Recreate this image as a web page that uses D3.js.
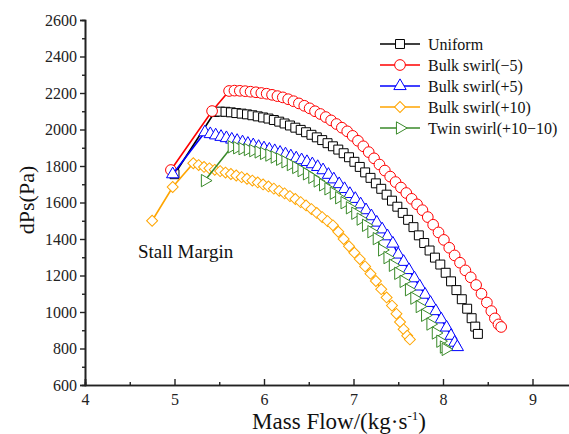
<!DOCTYPE html>
<html>
<head>
<meta charset="utf-8">
<script src="https://cdnjs.cloudflare.com/ajax/libs/d3/7.8.5/d3.min.js"></script>
<style>
 body{margin:0;background:#fff;}
 svg, svg text{font-family:"Liberation Serif","Times New Roman",serif;}
</style>
</head>
<body>
<svg id="svg" width="569" height="434"></svg>
<script>

var seriesNames=["Uniform","Bulk swirl(\u22125)","Bulk swirl(+5)","Bulk swirl(+10)","Twin swirl(+10\u221210)"];
var xTicks=[4,5,6,7,8,9];
var yTicks=[600,800,1000,1200,1400,1600,1800,2000,2200,2400,2600];

var uniformX=[5.00,5.45,5.51,5.57,5.63,5.69,5.75,5.81,5.87,5.93,5.99,6.05,6.11,6.17,6.23,6.29,6.35,6.41,6.47,6.53,6.59,6.65,6.71,6.77,6.83,6.89,6.95,7.01,7.07,7.13,7.19,7.25,7.31,7.37,7.43,7.49,7.55,7.61,7.67,7.73,7.79,7.85,7.91,7.97,8.03,8.09,8.15,8.21,8.27,8.32,8.36,8.39];
var uniformY=[1755,2096,2098,2097,2094,2090,2087,2083,2078,2072,2066,2060,2052,2043,2033,2022,2010,1998,1985,1971,1957,1942,1925,1908,1890,1870,1848,1823,1795,1765,1735,1705,1675,1643,1610,1577,1543,1505,1465,1420,1378,1337,1298,1260,1215,1168,1120,1070,1018,966,920,880];

var swirlM5X=[4.96,5.42,5.61,5.67,5.73,5.79,5.85,5.91,5.97,6.03,6.09,6.15,6.21,6.27,6.33,6.39,6.45,6.51,6.57,6.63,6.69,6.75,6.81,6.87,6.93,6.99,7.05,7.11,7.17,7.23,7.29,7.35,7.41,7.47,7.53,7.59,7.65,7.71,7.77,7.83,7.89,7.95,8.01,8.07,8.13,8.19,8.25,8.31,8.37,8.43,8.49,8.54,8.58,8.62,8.65];
var swirlM5Y=[1778,2101,2211,2213,2212,2210,2207,2204,2200,2196,2190,2183,2176,2166,2155,2143,2130,2116,2100,2085,2068,2050,2030,2010,1990,1965,1938,1908,1876,1842,1808,1775,1742,1712,1682,1652,1620,1590,1558,1520,1478,1436,1395,1352,1310,1270,1228,1190,1148,1100,1052,1005,965,932,918];

var swirlP5X=[4.98,5.34,5.40,5.46,5.52,5.58,5.64,5.70,5.76,5.82,5.88,5.94,6.00,6.06,6.12,6.18,6.24,6.30,6.36,6.42,6.48,6.54,6.60,6.66,6.72,6.78,6.84,6.90,6.96,7.02,7.08,7.14,7.20,7.26,7.32,7.38,7.44,7.50,7.56,7.62,7.68,7.74,7.80,7.86,7.92,7.98,8.04,8.09,8.13,8.16];
var swirlP5Y=[1755,1985,1975,1968,1960,1953,1945,1938,1930,1922,1914,1905,1897,1890,1882,1873,1864,1853,1842,1832,1822,1810,1795,1777,1752,1727,1701,1674,1647,1620,1590,1558,1525,1490,1453,1415,1375,1315,1275,1230,1185,1140,1095,1050,1005,960,915,870,832,808];

var swirlP10X=[4.75,4.98,5.21,5.27,5.33,5.39,5.45,5.51,5.57,5.63,5.69,5.75,5.81,5.87,5.93,5.99,6.05,6.11,6.17,6.23,6.29,6.35,6.41,6.47,6.53,6.59,6.65,6.71,6.77,6.83,6.89,6.95,7.01,7.07,7.13,7.19,7.25,7.31,7.37,7.43,7.48,7.52,7.56,7.60,7.63];
var swirlP10Y=[1500,1685,1815,1805,1795,1787,1779,1772,1764,1756,1748,1739,1730,1720,1710,1699,1688,1676,1664,1650,1635,1619,1602,1584,1564,1543,1520,1498,1475,1440,1400,1360,1325,1290,1250,1210,1170,1125,1080,1035,990,945,905,870,850];

var twinX=[5.34,5.64,5.70,5.76,5.82,5.88,5.94,6.00,6.06,6.12,6.18,6.24,6.30,6.36,6.42,6.48,6.54,6.60,6.66,6.72,6.78,6.84,6.90,6.96,7.02,7.08,7.14,7.20,7.26,7.32,7.38,7.44,7.50,7.56,7.62,7.68,7.74,7.80,7.86,7.92,7.97,8.01,8.03];
var twinY=[1720,1905,1900,1895,1890,1884,1877,1869,1860,1849,1837,1823,1808,1792,1775,1757,1738,1718,1697,1675,1651,1626,1599,1571,1541,1509,1475,1440,1402,1340,1298,1256,1212,1168,1122,1076,1030,982,934,885,840,808,795];

var svg=d3.select("#svg");
var plot={left:85,top:20,bottom:385};
var serif="'Liberation Serif','Times New Roman',serif";

var xScale=d3.scaleLinear().domain([4,9.6]).range([plot.left,plot.left+5.6*89.5]);
var yScale=d3.scaleLinear().domain([600,2600]).range([plot.bottom,plot.top]);

// series setup
var colors=["#000000","#ff0000","#0000ff","#ffa500","#3a8a2a"];
var xsAll=[uniformX,swirlM5X,swirlP5X,swirlP10X,twinX];
var ysAll=[uniformY,swirlM5Y,swirlP5Y,swirlP10Y,twinY];

var shapes=[
  {type:d3.symbolSquare,size:80,rot:0},
  {type:d3.symbolCircle,size:90,rot:0},
  {type:d3.symbolTriangle,size:66,rot:0},
  {type:d3.symbolSquare,size:60,rot:45},
  {type:d3.symbolTriangle,size:66,rot:90}
];

function marker(g,i,x,y){
  g.append("path")
    .attr("d",d3.symbol().type(shapes[i].type).size(shapes[i].size)())
    .attr("transform","translate("+x+","+y+") rotate("+shapes[i].rot+")")
    .attr("fill","#fff")
    .attr("stroke",colors[i])
    .attr("stroke-width",1);
}

// x-axis
var xAxis=svg.append("g")
  .attr("transform","translate(0,"+plot.bottom+")")
  .call(d3.axisBottom(xScale).tickValues(xTicks).tickSize(-6).tickPadding(9).tickFormat(d3.format("d")));
svg.append("g")
  .attr("transform","translate(0,"+plot.bottom+")")
  .call(d3.axisBottom(xScale).tickValues([4.5,5.5,6.5,7.5,8.5,9.5]).tickSize(-3).tickFormat(""));

// y-axis
var yAxis=svg.append("g")
  .attr("transform","translate("+plot.left+",0)")
  .call(d3.axisLeft(yScale).tickValues(yTicks).tickSize(5).tickPadding(3).tickFormat(d3.format("d")));
svg.append("g")
  .attr("transform","translate("+plot.left+",0)")
  .call(d3.axisLeft(yScale).tickValues(d3.range(700,2600,200)).tickSize(3).tickFormat(""));

svg.selectAll(".domain").attr("stroke","#222").attr("stroke-width",1.6);
svg.selectAll(".tick line").attr("stroke","#222").attr("stroke-width",1.4);
svg.selectAll("g").attr("font-family",serif);
svg.selectAll(".tick text").attr("fill","#222")
  .style("font-size","16px").style("font-family",serif);

// axis titles
svg.append("text")
  .attr("x",339).attr("y",429)
  .attr("text-anchor","middle")
  .style("font-size","23px").attr("fill","#111")
  .html("Mass Flow/(kg\u00b7s<tspan dy='-9' font-size='13'>-1</tspan><tspan dy='9'>)</tspan>");

svg.append("text")
  .attr("transform","translate(34,200) rotate(-90)")
  .attr("text-anchor","middle")
  .style("font-size","22px").attr("fill","#111")
  .text("dPs(Pa)");

svg.append("text")
  .attr("x",138).attr("y",258)
  .style("font-size","19px").attr("fill","#111")
  .text("Stall Margin");

// series
var line=d3.line().x(function(d){return xScale(d[0]);}).y(function(d){return yScale(d[1]);});

xsAll.forEach(function(xs,i){
  var pts=xs.map(function(x,j){return [x,ysAll[i][j]];});
  var g=svg.append("g");
  g.append("path")
    .attr("d",line(pts))
    .attr("fill","none")
    .attr("stroke",colors[i])
    .attr("stroke-width",1.6);
  pts.forEach(function(p){
    marker(g,i,xScale(p[0]),yScale(p[1]));
  });
});

// legend
var legend=svg.append("g");
seriesNames.forEach(function(name,i){
  var y=44+i*21;
  legend.append("line")
    .attr("x1",380).attr("x2",420).attr("y1",y).attr("y2",y)
    .attr("stroke",colors[i]).attr("stroke-width",1.6);
  marker(legend,i,400,y);
  legend.append("text")
    .attr("x",428).attr("y",y+5.5)
    .style("font-size","16px").attr("fill","#111")
    .text(name);
});

</script>
</body>
</html>
